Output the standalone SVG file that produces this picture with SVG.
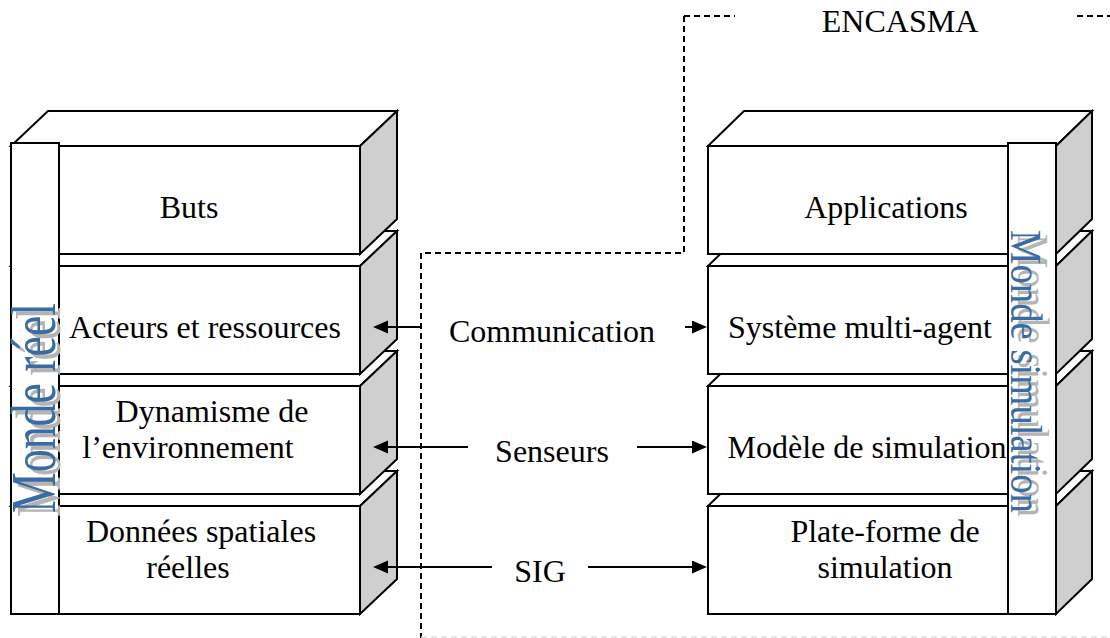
<svg xmlns="http://www.w3.org/2000/svg" width="1110" height="638" viewBox="0 0 1110 638">
  <style>
    .face { fill: #ffffff; stroke: #000; stroke-width: 2; stroke-linejoin: miter; }
    .side { fill: #cfcfcf; stroke: #000; stroke-width: 2; stroke-linejoin: miter; }
    .lbl { font-family: "Liberation Serif", "Times New Roman", serif; font-size: 32px; fill: #000; text-anchor: middle; }
    .vert { font-family: "Liberation Serif", "Times New Roman", serif; }
    .vblue { fill: #3a6ca3; }
    .vshadow { fill: #b4b4b4; }
    .arrow { stroke: #000; stroke-width: 2; fill: none; marker-end: url(#head); }
    .dash { stroke: #000; stroke-width: 2; fill: none; stroke-dasharray: 6 4; }
    .faint { stroke: #e2e2e2; stroke-width: 1.5; fill: none; stroke-dasharray: 6 4; }
  </style>
  <defs>
    <marker id="head" markerUnits="userSpaceOnUse" markerWidth="16" markerHeight="14" refX="7" refY="6.5" orient="auto">
      <path d="M0,0 L15,6.5 L0,13 Z" fill="#000"/>
    </marker>
  </defs>

  <rect width="1110" height="638" fill="#ffffff"/>

  <!-- Left stack: "Monde réel" (drawn bottom-up so upper blocks overlap) -->
  <g id="left-stack">
    <g id="donnees">
      <polygon class="face" points="11,506 48,471 397,471 360,506"/>
      <rect class="face" x="11" y="506" width="349" height="108"/>
      <polygon class="side" points="360,506 397,471 397,579 360,614"/>
      <text class="lbl" x="201" y="542">Données spatiales</text>
      <text class="lbl" x="188" y="578">réelles</text>
    </g>
    <g id="dynamisme">
      <polygon class="face" points="11,386 48,351 397,351 360,386"/>
      <rect class="face" x="11" y="386" width="349" height="108"/>
      <polygon class="side" points="360,386 397,351 397,459 360,494"/>
      <text class="lbl" x="212" y="422">Dynamisme de</text>
      <text class="lbl" x="188" y="458">l’environnement</text>
    </g>
    <g id="acteurs">
      <polygon class="face" points="11,266 48,231 397,231 360,266"/>
      <rect class="face" x="11" y="266" width="349" height="108"/>
      <polygon class="side" points="360,266 397,231 397,339 360,374"/>
      <text class="lbl" x="205" y="338">Acteurs et ressources</text>
    </g>
    <g id="buts">
      <polygon class="face" points="11,146 48,111 397,111 360,146"/>
      <rect class="face" x="11" y="146" width="349" height="108"/>
      <polygon class="side" points="360,146 397,111 397,219 360,254"/>
      <text class="lbl" x="189" y="218">Buts</text>
    </g>
    <g id="monde-reel">
      <rect class="face" x="11" y="143" width="48" height="471"/>
      <text class="vert vshadow" transform="translate(60,517) rotate(-90)" font-size="63" textLength="210" lengthAdjust="spacingAndGlyphs">Monde réel</text>
      <text class="vert vblue" transform="translate(55,513) rotate(-90)" font-size="63" textLength="210" lengthAdjust="spacingAndGlyphs">Monde réel</text>
    </g>
  </g>

  <!-- Right stack: "Monde simulation" -->
  <g id="right-stack">
    <g id="plate-forme">
      <polygon class="face" points="708,506 744,471 1092,471 1056,506"/>
      <rect class="face" x="708" y="506" width="348" height="108"/>
      <polygon class="side" points="1056,506 1092,471 1092,579 1056,614"/>
      <text class="lbl" x="885" y="542">Plate-forme de</text>
      <text class="lbl" x="885" y="578">simulation</text>
    </g>
    <g id="modele">
      <polygon class="face" points="708,386 744,351 1092,351 1056,386"/>
      <rect class="face" x="708" y="386" width="348" height="108"/>
      <polygon class="side" points="1056,386 1092,351 1092,459 1056,494"/>
      <text class="lbl" x="867" y="458">Modèle de simulation</text>
    </g>
    <g id="sma">
      <polygon class="face" points="708,266 744,231 1092,231 1056,266"/>
      <rect class="face" x="708" y="266" width="348" height="108"/>
      <polygon class="side" points="1056,266 1092,231 1092,339 1056,374"/>
      <text class="lbl" x="860" y="338">Système multi-agent</text>
    </g>
    <g id="applications">
      <polygon class="face" points="708,146 744,111 1092,111 1056,146"/>
      <rect class="face" x="708" y="146" width="348" height="108"/>
      <polygon class="side" points="1056,146 1092,111 1092,219 1056,254"/>
      <text class="lbl" x="886" y="218">Applications</text>
    </g>
    <g id="monde-simulation">
      <rect class="face" x="1008" y="143" width="48" height="471"/>
      <text class="vert vshadow" transform="translate(1018,234) rotate(90)" font-size="44" textLength="283" lengthAdjust="spacingAndGlyphs">Monde simulation</text>
      <text class="vert vblue" transform="translate(1011,230) rotate(90)" font-size="44" textLength="283" lengthAdjust="spacingAndGlyphs">Monde simulation</text>
    </g>
  </g>

  <!-- ENCASMA framework title -->
  <g id="encasma">
    <text class="lbl" x="900" y="32">ENCASMA</text>
  </g>

  <!-- Connectors -->
  <g id="connectors">
    <path class="dash" d="M684,16 H735 M1077,16 H1110 M684,16 V253 H421 V638"/>
    <path class="faint" d="M421,637 H1110"/>

    <line class="arrow" x1="420" y1="327" x2="381" y2="327"/>
    <line class="arrow" x1="685" y1="327" x2="699" y2="327"/>
    <text class="lbl" x="552" y="342">Communication</text>

    <line class="arrow" x1="468" y1="447" x2="381" y2="447"/>
    <line class="arrow" x1="637" y1="447" x2="699" y2="447"/>
    <text class="lbl" x="552" y="462">Senseurs</text>

    <line class="arrow" x1="492" y1="567" x2="381" y2="567"/>
    <line class="arrow" x1="588" y1="567" x2="699" y2="567"/>
    <text class="lbl" x="540" y="582">SIG</text>
  </g>
</svg>
